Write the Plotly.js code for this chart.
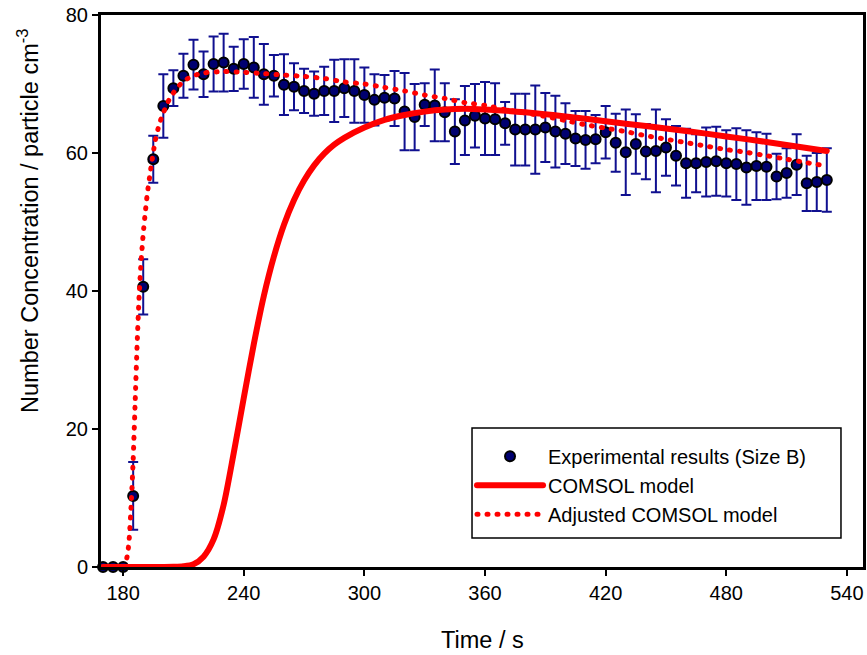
<!DOCTYPE html>
<html>
<head>
<meta charset="utf-8">
<script src="https://cdn.plot.ly/plotly-3.0.1.min.js"></script>
<style>
  html, body { margin: 0; padding: 0; background: #fff; }
  #chart { width: 867px; height: 655px; }
  path.js-line { stroke-linecap: round; }
</style>
</head>
<body>
<div id="chart"></div>
<script>
// ---- Data ----
const timeExp = [170,175,180,185,190,195,200,205,210,215,220,225,230,235,240,245,250,255,260,265,270,275,280,285,290,295,300,
  305,310,315,320,325,330,335,340,345,350,355,360,365,370,375,380,385,390,395,400,405,410,415,420,425,430,435,440,445,450,
  455,460,465,470,475,480,485,490,495,500,505,510,515,520,525,530];
const concExp = [0,0,0,10.3,40.6,59.1,66.8,69.4,71.2,72.8,71.4,72.9,73.1,72.2,72.9,72.4,71.4,71.2,69.9,69.6,69.0,68.6,69.0,69.0,69.4,69.0,68.4,
  67.7,68.0,67.9,66.0,65.2,67.0,66.9,65.9,63.1,64.7,65.4,65.0,64.9,64.3,63.4,63.4,63.4,63.7,63.1,62.8,62.1,61.9,62.0,63.0,61.5,60.1,61.3,60.2,60.3,60.8,
  59.6,58.5,58.5,58.7,58.8,58.5,58.4,57.9,58.1,58.0,56.6,57.1,58.3,55.6,55.8,56.1];
const errExp = [0,0,0,4.9,4.0,3.4,4.6,2.6,3.2,3.6,3.3,4.0,4.2,3.2,3.6,4.4,4.4,3.0,4.4,3.4,3.2,3.2,3.5,4.5,4.2,4.6,4.0,
  3.7,3.3,4.0,5.6,4.8,3.1,5.2,4.2,4.7,5.0,4.6,5.3,5.2,3.1,5.2,5.2,6.4,5.0,5.2,4.4,4.0,4.2,3.5,3.8,4.2,6.2,4.3,4.0,6.0,4.1,
  4.3,5.0,4.2,5.0,5.0,4.8,5.2,5.4,4.9,4.8,3.3,3.6,4.4,4.0,4.2,4.6];

const timeModel = [170,200,205,210,215,220,225,230,235,240,245,250,255,260,265,270,275,280,285,290,300,310,320,330,340,350,360,380,400,420,440,460,480,500,530];
const concModel = [0,0,0.02,0.1,0.4,1.5,4.0,9.0,16.5,24.5,32.3,39.3,45.0,49.6,53.2,56.0,58.2,59.9,61.2,62.2,63.7,64.8,65.5,66.0,66.3,66.4,66.3,65.9,65.3,64.6,63.9,63.2,62.4,61.6,60.3];

const timeAdj = [170,180,182,183,184,185,186,187,188,189,190,191,192,194,196,198,200,203,206,210,215,220,230,240,250,260,270,280,290,300,
  310,320,330,340,350,360,370,380,390,400,410,420,430,440,450,460,470,480,490,500,510,520,530];
const concAdj = [0,0,1.5,4.0,9.0,15.5,24.0,32.5,39.5,44.5,48.3,51.3,54.0,58.2,61.8,64.2,65.8,67.8,69.1,70.4,71.2,71.6,71.8,71.7,71.5,71.3,71.1,70.8,70.3,70.0,
  69.5,69.0,68.4,67.9,67.3,66.9,66.3,65.8,65.3,64.7,64.1,63.6,63.1,62.5,62.0,61.5,61.0,60.5,60.1,59.6,59.1,58.6,58.1];

const xTicks = [180,240,300,360,420,480,540];
const yTicks = [0,20,40,60,80];

const seriesNames = ["Experimental results (Size B)", "COMSOL model", "Adjusted COMSOL model"];

// ---- Traces ----
const navy = "#000070";
const barColor = "#101090";
const FONT = "Arial, 'Liberation Sans', sans-serif";

const traces = [
  {
    x: timeExp, y: concExp, name: seriesNames[0], type: "scatter", mode: "markers",
    marker: { color: navy, size: 10, line: { color: "#000", width: 2 } },
    error_y: { type: "data", array: errExp, visible: true, color: barColor, thickness: 2, width: 5 },
    cliponaxis: false
  },
  {
    x: timeModel, y: concModel, name: seriesNames[1], type: "scatter", mode: "lines",
    line: { color: "#ff0000", width: 6, shape: "spline", smoothing: 0.8 },
    cliponaxis: false
  },
  {
    x: timeAdj, y: concAdj, name: seriesNames[2], type: "scatter", mode: "lines",
    line: { color: "#ff0000", width: 5, dash: "1px,9px", shape: "spline", smoothing: 0.6 },
    cliponaxis: false
  }
];

const axisCommon = {
  showline: true, linecolor: "#000", linewidth: 3, mirror: true,
  ticks: "outside", ticklen: 6, tickwidth: 2, tickcolor: "#000",
  showgrid: false, zeroline: false,
  tickfont: { family: FONT, size: 20, color: "#000" }
};

// legend frame position (paper coordinates)
const legendBox = { x0: 0.4869, x1: 0.9711, y0: 0.0525, y1: 0.2518 };

const layout = {
  width: 867, height: 655,
  margin: { l: 101, r: 4, t: 15, b: 88 },
  paper_bgcolor: "#fff", plot_bgcolor: "#fff",
  showlegend: true,
  xaxis: Object.assign({}, axisCommon, { range: [169, 548], tickmode: "array", tickvals: xTicks, ticktext: xTicks.map(String) }),
  yaxis: Object.assign({}, axisCommon, { range: [0, 80], tickmode: "array", tickvals: yTicks, ticktext: yTicks.map(String) }),
  legend: {
    x: 0.4869, y: 0.236, xanchor: "left", yanchor: "top",
    bgcolor: "rgba(0,0,0,0)", borderwidth: 0,
    font: { family: FONT, size: 20, color: "#000" },
    itemwidth: 66, tracegroupgap: 0
  },
  shapes: [
    { type: "rect", xref: "paper", yref: "paper", x0: legendBox.x0, x1: legendBox.x1, y0: legendBox.y0, y1: legendBox.y1,
      line: { color: "#000", width: 1.5 }, fillcolor: "#fff", layer: "below" }
  ],
  annotations: [
    { text: "Time / s", xref: "paper", yref: "paper", x: 0.5, y: -0.132, xanchor: "center", yanchor: "middle",
      showarrow: false, font: { family: FONT, size: 23.5, color: "#000" } },
    { text: "Number Concentration / particle cm<sup>-3</sup>", xref: "paper", yref: "paper", x: -0.0958, y: 0.627,
      xanchor: "center", yanchor: "middle", textangle: -90, showarrow: false,
      font: { family: FONT, size: 23.5, color: "#000" } }
  ]
};

Plotly.newPlot("chart", traces, layout, { displayModeBar: false, staticPlot: true });
</script>
</body>
</html>
